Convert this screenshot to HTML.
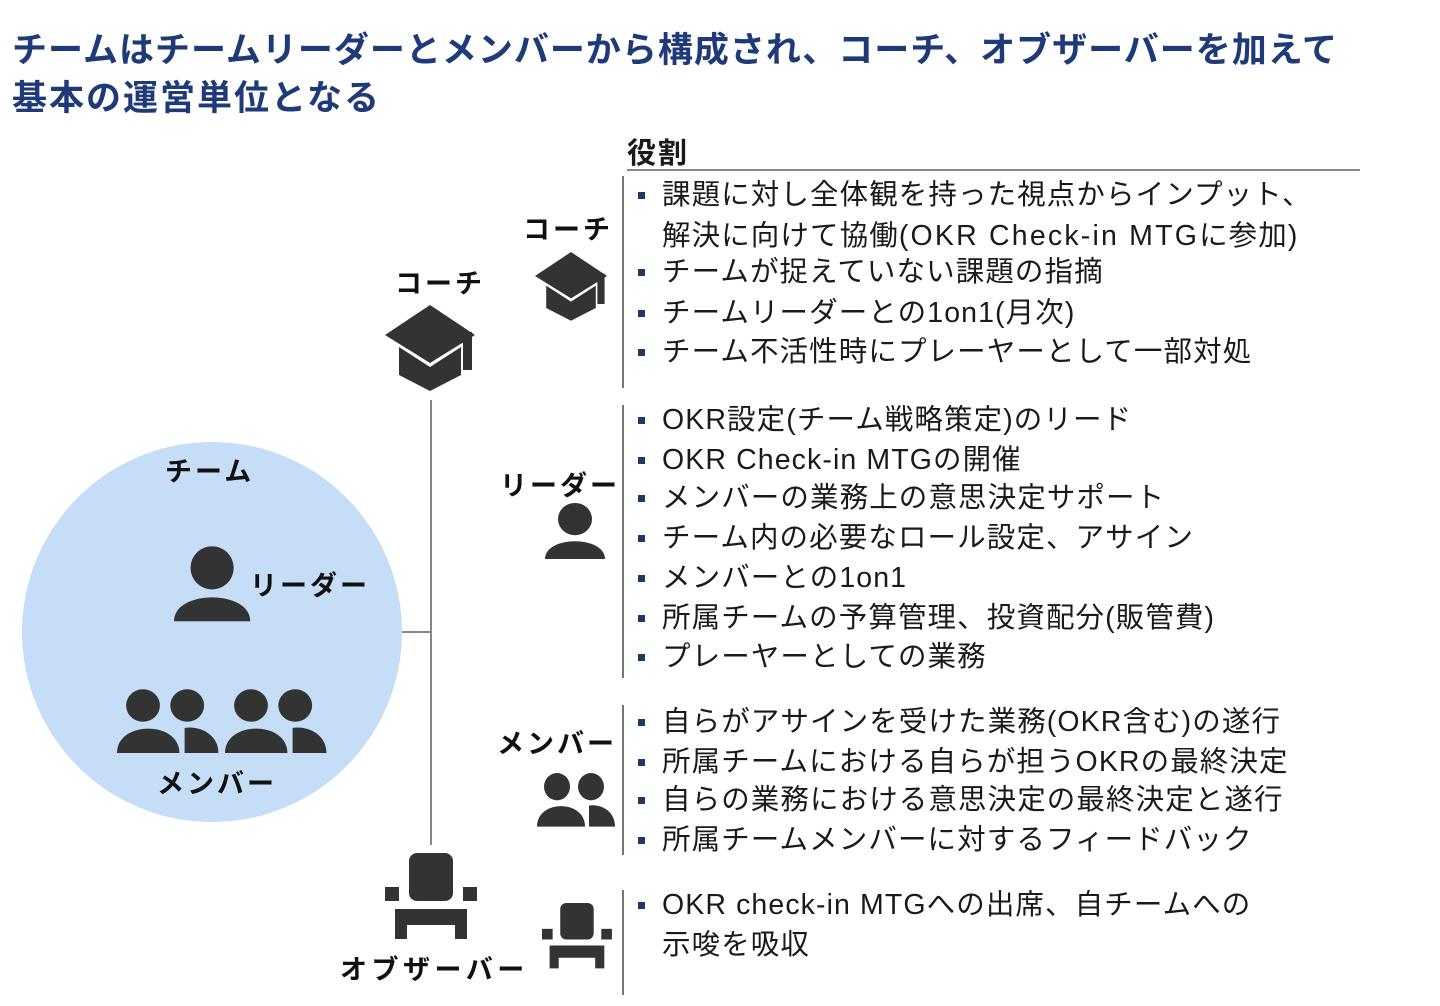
<!DOCTYPE html>
<html><head><meta charset="utf-8"><style>
body{margin:0;width:1440px;height:1006px;background:#fff;position:relative;overflow:hidden;font-family:"Liberation Sans","Noto Sans CJK JP",sans-serif;color:#1a1a1a}
.t{position:absolute;white-space:nowrap}
.title{left:12px;font-size:35px;font-weight:bold;color:#1f3a78;letter-spacing:1px}
.lab{font-size:27px;font-weight:bold;color:#111;letter-spacing:3px}
.b{position:absolute;left:662px;font-size:28.5px;white-space:nowrap;letter-spacing:1.1px;line-height:32px}
.b:before{content:"";position:absolute;left:-24px;top:13px;width:7px;height:7px;background:#1f3864}
.b.nb:before{display:none}
.v{position:absolute;left:622px;width:2px;background:#777}
.lat{letter-spacing:2.2px}
</style></head><body>
<div class="t title" style="top:22px">チームはチームリーダーとメンバーから構成され、コーチ、オブザーバーを加えて</div>
<div class="t title" style="top:70px;letter-spacing:2px">基本の運営単位となる</div>
<div class="t" style="left:627px;top:130px;font-size:29px;font-weight:bold;letter-spacing:2px">役割</div>
<div style="position:absolute;left:627px;top:169px;width:733px;height:2px;background:#888"></div>
<div class="v" style="top:176px;height:212px"></div>
<div class="v" style="top:405px;height:273px"></div>
<div class="v" style="top:705px;height:150px"></div>
<div class="v" style="top:890px;height:105px"></div>

<div class="b" style="top:179px">課題に対し全体観を持った視点からインプット、</div>
<div class="b nb" style="top:220px">解決に向けて協働<span class="lat">(OKR Check-in MTG</span>に参加)</div>
<div class="b" style="top:256px">チームが捉えていない課題の指摘</div>
<div class="b" style="top:297px">チームリーダーとの1on1(月次)</div>
<div class="b" style="top:336px">チーム不活性時にプレーヤーとして一部対処</div>

<div class="b" style="top:404px">OKR設定(チーム戦略策定)のリード</div>
<div class="b" style="top:444px">OKR Check-in MTGの開催</div>
<div class="b" style="top:482px">メンバーの業務上の意思決定サポート</div>
<div class="b" style="top:522px">チーム内の必要なロール設定、アサイン</div>
<div class="b" style="top:562px">メンバーとの1on1</div>
<div class="b" style="top:602px">所属チームの予算管理、投資配分(販管費)</div>
<div class="b" style="top:641px">プレーヤーとしての業務</div>

<div class="b" style="top:706px">自らがアサインを受けた業務(OKR含む)の遂行</div>
<div class="b" style="top:746px">所属チームにおける自らが担うOKRの最終決定</div>
<div class="b" style="top:784px">自らの業務における意思決定の最終決定と遂行</div>
<div class="b" style="top:824px">所属チームメンバーに対するフィードバック</div>

<div class="b" style="top:889px">OKR check-in MTGへの出席、自チームへの</div>
<div class="b nb" style="top:929px">示唆を吸収</div>

<svg style="position:absolute;left:0;top:0" width="1440" height="1006">
<defs>
<g id="cap"><polygon points="0,30 45,0 90,30 45,58" fill="#333"/><polygon points="14,42 45,62 76,42 76,70 45,86 14,70" fill="#333"/><rect x="78" y="27" width="9" height="38" fill="#333"/></g>
<g id="per"><circle cx="30" cy="18" r="17" fill="#333"/><path d="M0,60 C0,35 60,35 60,60 Z" fill="#333"/></g>
<g id="two"><circle cx="20" cy="14" r="13" fill="#333"/><circle cx="54" cy="14" r="13" fill="#333"/><path d="M0,52 C0,26 48,26 48,52Z" fill="#333"/><path d="M52,52 L52,32 C62,30 78,36 78,52Z" fill="#333"/></g>
<g id="chair"><rect x="24" y="0" width="44" height="48" rx="8" fill="#333"/><rect x="0" y="34" width="14" height="14" fill="#333"/><rect x="78" y="34" width="14" height="14" fill="#333"/><path d="M10,56 H82 V86 H70 V72 H22 V86 H10Z" fill="#333"/></g>
</defs>
<circle cx="212" cy="632" r="190" fill="#c5ddf6"/>
<line x1="431" y1="400" x2="431" y2="845" stroke="#888" stroke-width="2"/>
<line x1="402" y1="632" x2="431" y2="632" stroke="#888" stroke-width="2"/>
<use href="#cap" transform="translate(385,305)"/>
<use href="#cap" transform="translate(535,252) scale(0.8)"/>
<use href="#per" transform="translate(174,545) scale(1.27)"/>
<use href="#two" transform="translate(117,688) scale(1.3,1.25)"/>
<use href="#two" transform="translate(225,688) scale(1.3,1.25)"/>
<use href="#per" transform="translate(545,502) scale(1.0,0.95)"/>
<use href="#two" transform="translate(537,772) scale(1.0,1.05)"/>
<use href="#chair" transform="translate(385,853)"/>
<use href="#chair" transform="translate(542,903) scale(0.76)"/>
</svg>

<div class="t lab" style="left:395px;top:262px">コーチ</div>
<div class="t lab" style="left:523px;top:208px">コーチ</div>
<div class="t lab" style="left:165px;top:450px">チーム</div>
<div class="t lab" style="left:250px;top:564px">リーダー</div>
<div class="t lab" style="left:157px;top:762px">メンバー</div>
<div class="t lab" style="left:500px;top:464px">リーダー</div>
<div class="t lab" style="left:497px;top:722px">メンバー</div>
<div class="t lab" style="left:340px;top:948px;letter-spacing:4.5px">オブザーバー</div>
</body></html>
